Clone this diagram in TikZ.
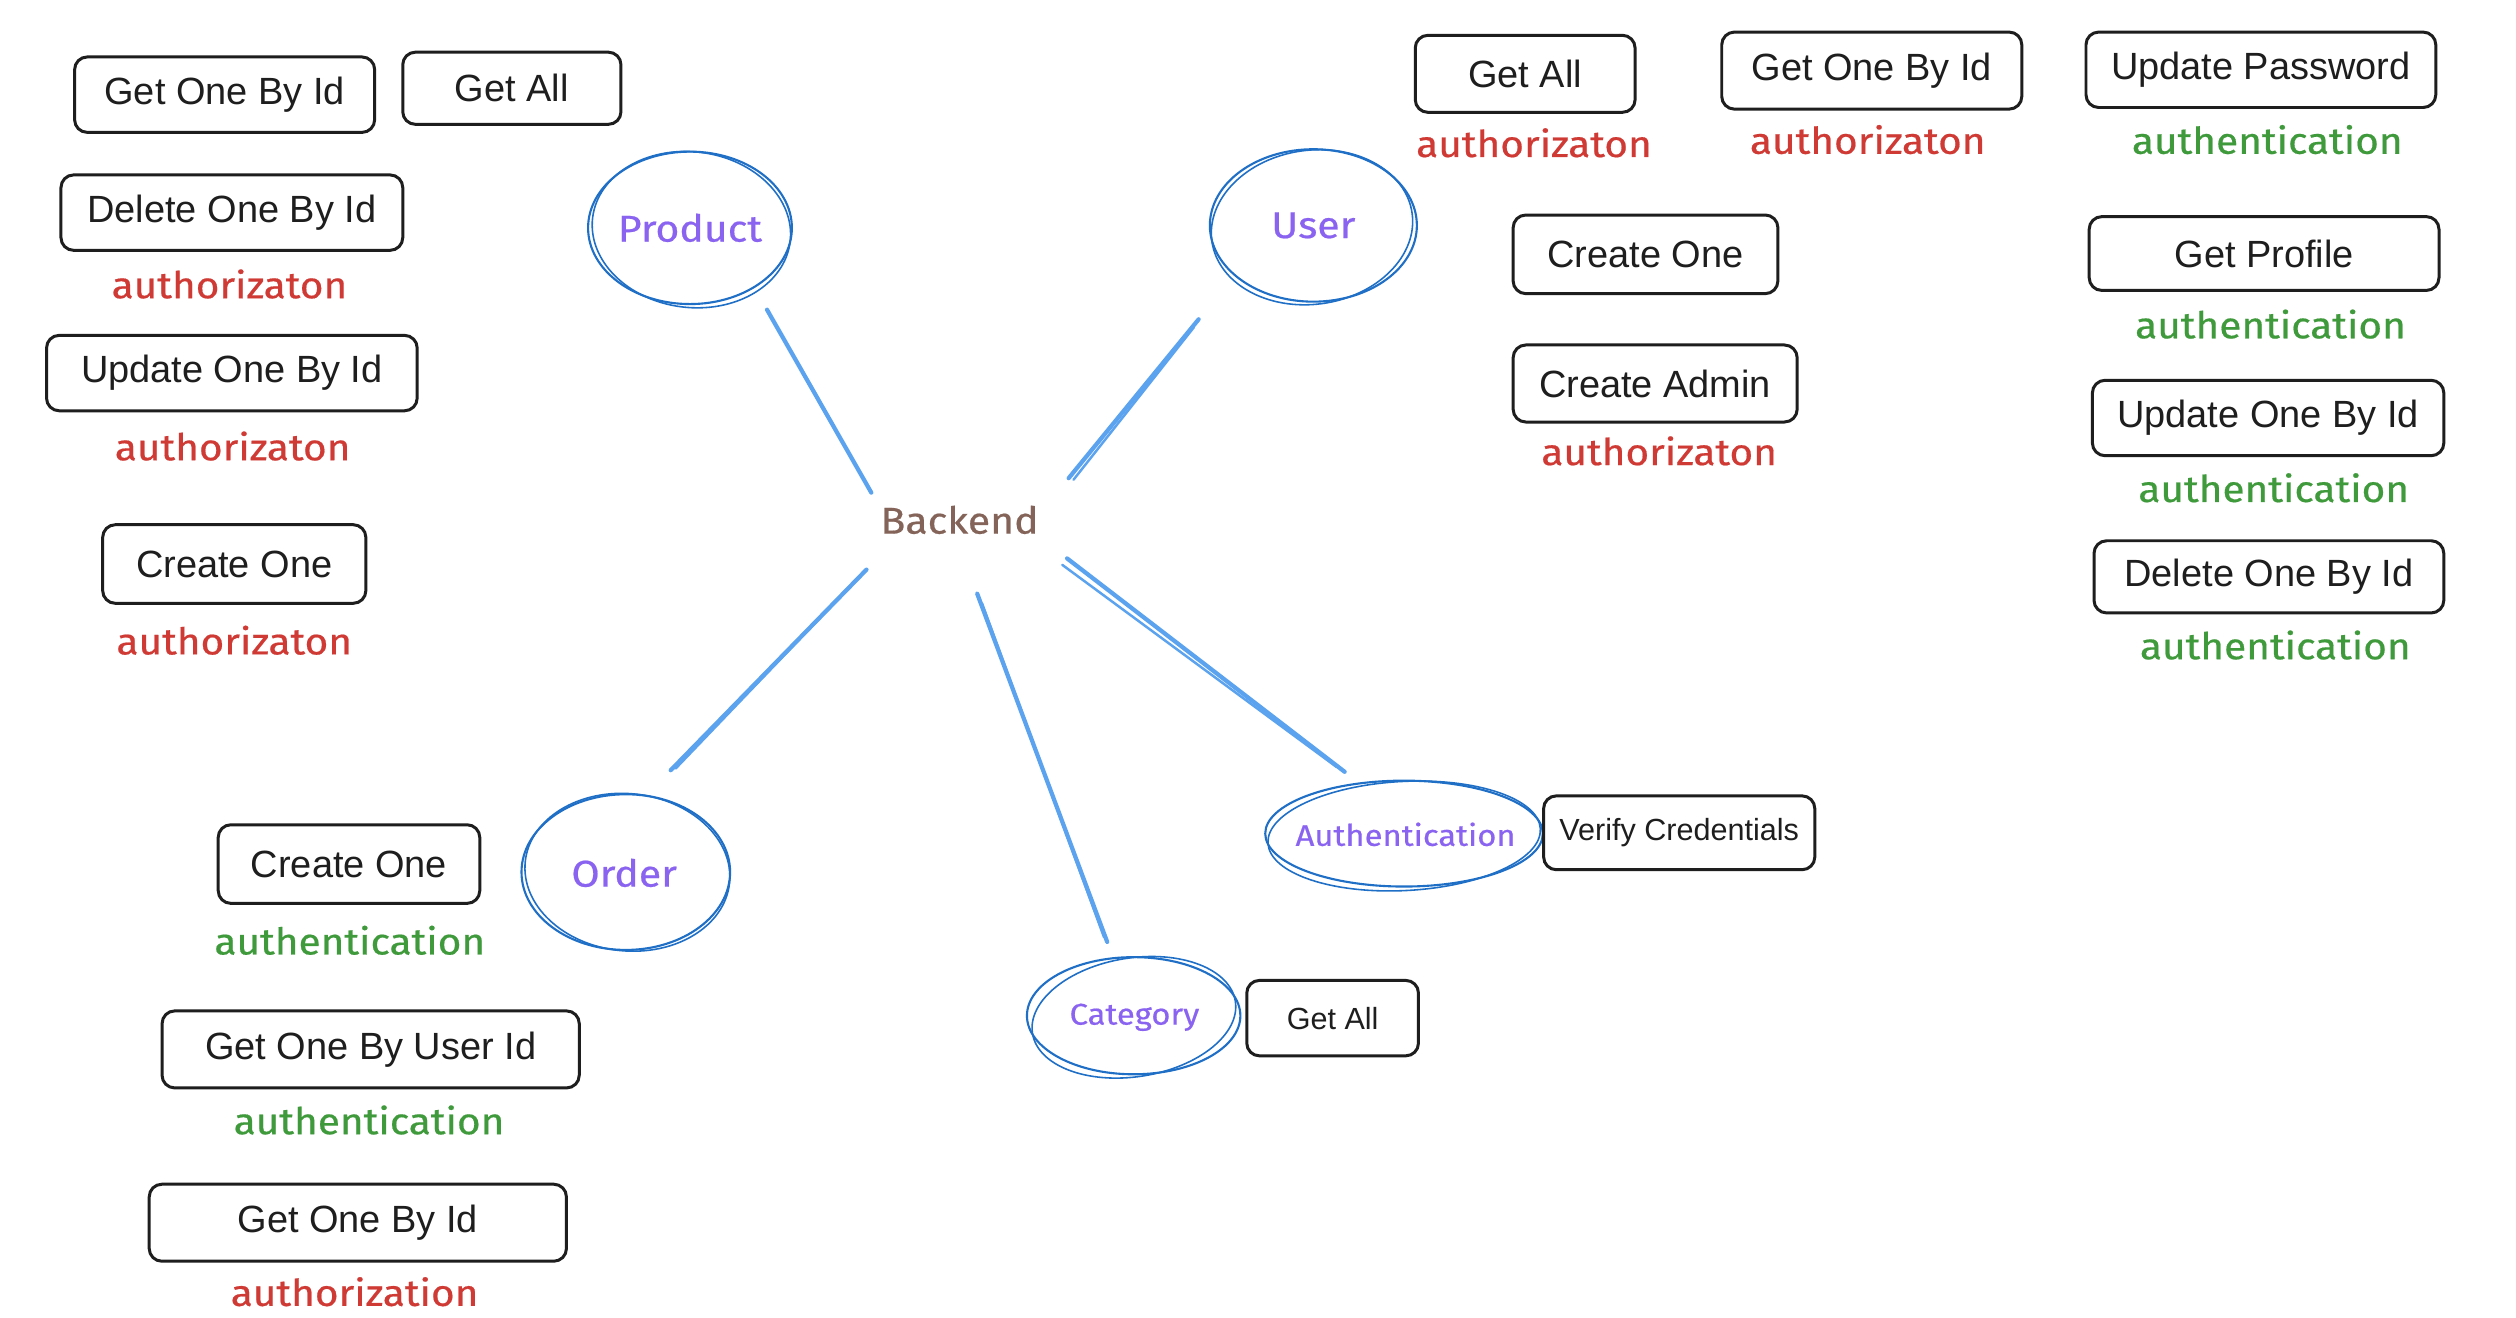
\documentclass[tikz,border=0pt]{standalone}
\usepackage{fontspec}
\setmainfont{Liberation Sans}
\newfontfamily\handfont[FakeStretch=1.1,FakeBold=0.5]{Fira Sans}
\usetikzlibrary{shapes.geometric}
\definecolor{boxline}{HTML}{1E1E1E}
\definecolor{cblue}{HTML}{1F6FC6}
\definecolor{lblue}{HTML}{5BA3EE}
\definecolor{authred}{HTML}{D03A35}
\definecolor{authgreen}{HTML}{3F9A3C}
\definecolor{violetx}{HTML}{8A63F0}
\definecolor{brownx}{HTML}{846358}
\def\uu{0.016046cm}
\begin{document}
\begin{tikzpicture}[x=0.016046cm,y=-0.016046cm,
  rbox/.style 2 args={draw=boxline, line width=0.85pt, rounded corners=3.6pt,
    minimum width=#1*\uu, minimum height=#2*\uu, inner sep=0pt,
    font=\fontsize{10.8pt}{12pt}\selectfont, text=boxline},
  sbox/.style 2 args={rbox={#1}{#2}, font=\fontsize{8.7pt}{10pt}\selectfont},
  ctext/.style={inner sep=0pt, text=violetx},
  circone/.style={draw=cblue, line width=0.6pt},
  circtwo/.style={draw=cblue, line width=0.45pt},
  bigh/.style={font=\handfont\fontsize{10.6pt}{12pt}\selectfont},
  smallh/.style={font=\handfont\fontsize{8.5pt}{10pt}\selectfont},
  redlab/.style={font=\handfont\fontsize{10.5pt}{12pt}\selectfont, text=authred, inner sep=0pt},
  greenlab/.style={font=\handfont\fontsize{10.5pt}{12pt}\selectfont, text=authgreen, inner sep=0pt},
  conn/.style={draw=lblue, line width=1.2pt, line cap=round},
  conntwo/.style={draw=lblue, line width=0.7pt, line cap=round}]
\useasboundingbox (0,0) rectangle (1568,821);
\fill[white] (0,0) rectangle (1568,821);

% ---- Product
\node[ctext, bigh] (product) at (430,142) {Product};
\draw[circone] (product.center) ellipse [x radius=63.5, y radius=47.5];
\draw[circtwo, rotate around={-7:(product.center)}] ([shift={(1,1)}]product.center) ellipse [x radius=62, y radius=48.5];
\node[rbox={187}{47}] (p1) at (140,59) {Get One By Id};
\node[rbox={136}{45}] (p2) at (319,55) {Get All};
\node[rbox={213}{47}] (p3) at (144.5,132.5) {Delete One By Id};
\node[redlab] (p3a) at (143,177) {authorizaton};
\node[rbox={231}{47}] (p4) at (144.5,232.5) {Update One By Id};
\node[redlab] (p4a) at (145,278) {authorizaton};
\node[rbox={164}{49}] (p5) at (146,351.5) {Create One};
\node[redlab] (p5a) at (146,399) {authorizaton};

% ---- User
\node[ctext, bigh] (user) at (818.5,140.5) {User};
\draw[circone] (user.center) ellipse [x radius=64.5, y radius=47.5];
\draw[circtwo, rotate around={8:(user.center)}] ([shift={(-1,1)}]user.center) ellipse [x radius=63, y radius=48];
\node[rbox={137}{48}] (u1) at (950.5,46) {Get All};
\node[redlab] (u1a) at (956,89) {authorizaton};
\node[rbox={187}{48}] (u2) at (1166.5,44) {Get One By Id};
\node[redlab] (u2a) at (1164,87) {authorizaton};
\node[rbox={218}{47}] (u3) at (1409,43.5) {Update Password};
\node[greenlab] (u3a) at (1413,87) {authentication};
\node[rbox={165}{49}] (u4) at (1025.5,158.5) {Create One};
\node[rbox={177}{48}] (u5) at (1031.5,239) {Create Admin};
\node[redlab] (u5a) at (1034,281) {authorizaton};
\node[rbox={218}{46}] (u6) at (1411,158) {Get Profile};
\node[greenlab] (u6a) at (1415,202) {authentication};
\node[rbox={219}{47}] (u7) at (1413.5,260.5) {Update One By Id};
\node[greenlab] (u7a) at (1417,304) {authentication};
\node[rbox={218}{45}] (u8) at (1414,359.5) {Delete One By Id};
\node[greenlab] (u8a) at (1418,402) {authentication};

% ---- Backend
\node[bigh, text=brownx, inner sep=0pt] (backend) at (598,324) {Backend};

% ---- Order
\node[ctext, bigh] (order) at (389,544) {Order};
\draw[circone] (390,543.5) ellipse [x radius=65, y radius=48.5];
\draw[circtwo, rotate around={-6:(390,543.5)}] (391,543.5) ellipse [x radius=64, y radius=49];
\node[rbox={163}{49}] (o1) at (217.5,538.5) {Create One};
\node[greenlab] (o1a) at (218,586) {authentication};
\node[rbox={260}{48}] (o2) at (231,654) {Get One By User Id};
\node[greenlab] (o2a) at (230,698) {authentication};
\node[rbox={260}{48}] (o3) at (223,762) {Get One By Id};
\node[redlab] (o3a) at (221,805) {authorization};

% ---- Authentication
\node[ctext, smallh] (auth) at (876,520) {Authentication};
\draw[circone] (875,519.5) ellipse [x radius=86.5, y radius=33];
\draw[circtwo, rotate around={3:(875,519.5)}] (875,521) ellipse [x radius=85, y radius=34];
\node[sbox={169}{46}] (vc) at (1046.5,519) {Verify Credentials};

% ---- Category
\node[ctext, smallh] (category) at (707,634) {Category};
\draw[circone] (706.5,633) ellipse [x radius=66.5, y radius=36.5];
\draw[circtwo, rotate around={9:(706.5,633)}] (706.5,634) ellipse [x radius=64, y radius=37];
\node[sbox={107}{47}] (cg) at (830.5,634.5) {Get All};

% ---- connectors (free ends)
\coordinate (pa) at (478,193); \coordinate (pb) at (543,307);
\coordinate (ua) at (747,199); \coordinate (ub) at (666,298);
\coordinate (ua2) at (744,204); \coordinate (ub2) at (669,299);
\coordinate (oa) at (540,355); \coordinate (ob) at (418,480);
\coordinate (oa2) at (536,359); \coordinate (ob2) at (421,479);
\coordinate (ca) at (609,370); \coordinate (cb) at (690,587);
\coordinate (ca2) at (612,376); \coordinate (cb2) at (688,584);
\coordinate (aa) at (665,348); \coordinate (ab) at (838,481);
\coordinate (aa2) at (662,352); \coordinate (ab2) at (833,478);
\draw[conn] (pa) -- (pb);
\draw[conn] (ua) -- (ub);
\draw[conntwo] (ua2) -- (ub2);
\draw[conn] (oa) -- (ob);
\draw[conntwo] (oa2) -- (ob2);
\draw[conn] (ca) -- (cb);
\draw[conntwo] (ca2) -- (cb2);
\draw[conn] (aa) -- (ab);
\draw[conntwo] (aa2) -- (ab2);
\end{tikzpicture}
\end{document}
